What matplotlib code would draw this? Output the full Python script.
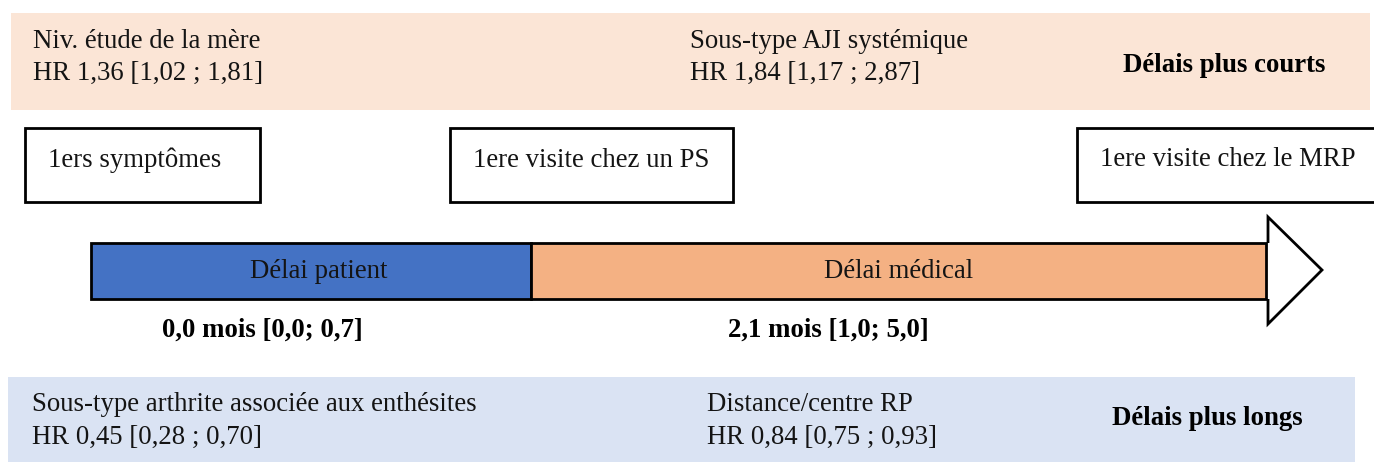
import matplotlib
matplotlib.use("Agg")
import matplotlib.pyplot as plt
from matplotlib.patches import Rectangle, Polygon

# ---- data ----
steps = ["1ers symptômes", "1ere visite chez un PS", "1ere visite chez le MRP"]
phases = ["Délai patient", "Délai médical"]
median_months = [0.0, 2.1]
q1_months = [0.0, 1.0]
q3_months = [0.7, 5.0]
short_factors = ["Niv. étude de la mère", "Sous-type AJI systémique"]
short_hr = [1.36, 1.84]
short_lo = [1.02, 1.17]
short_hi = [1.81, 2.87]
long_factors = ["Sous-type arthrite associée aux enthésites", "Distance/centre RP"]
long_hr = [0.45, 0.84]
long_lo = [0.28, 0.75]
long_hi = [0.70, 0.93]
band_titles = ["Délais plus courts", "Délais plus longs"]


def fr(v, d):
    return f"{v:.{d}f}".replace(".", ",")


plt.rcParams['font.family'] = ['Liberation Serif', 'DejaVu Serif']
FS = 19.3
TXT = "#141414"

fig = plt.figure(figsize=(13.74, 4.62), dpi=100)
ax = fig.add_axes([0, 0, 1, 1])
ax.set_xlim(0, 1374)
ax.set_ylim(462, 0)
ax.axis("off")

# bands
ax.add_patch(Rectangle((11, 13), 1359, 97, facecolor="#FBE5D6", edgecolor="none"))
ax.add_patch(Rectangle((8, 377), 1347, 85, facecolor="#DAE3F3", edgecolor="none"))

# top band texts
short_x = [33, 690]
for x, f, hr, lo, hi in zip(short_x, short_factors, short_hr, short_lo, short_hi):
    ax.text(x, 48, f, fontsize=FS, color=TXT, va="baseline", ha="left")
    ax.text(x, 80, f"HR {fr(hr, 2)} [{fr(lo, 2)} ; {fr(hi, 2)}]", fontsize=FS,
            color=TXT, va="baseline", ha="left")
ax.text(1224.5, 72, band_titles[0], fontsize=FS, fontweight="bold", color="black",
        va="baseline", ha="center")

# bottom band texts
long_x = [32, 707]
for x, f, hr, lo, hi in zip(long_x, long_factors, long_hr, long_lo, long_hi):
    ax.text(x, 411, f, fontsize=FS, color=TXT, va="baseline", ha="left")
    ax.text(x, 444, f"HR {fr(hr, 2)} [{fr(lo, 2)} ; {fr(hi, 2)}]", fontsize=FS,
            color=TXT, va="baseline", ha="left")
ax.text(1207.5, 425, band_titles[1], fontsize=FS, fontweight="bold", color="black",
        va="baseline", ha="center")

# step boxes
box_x = [(25, 260), (450, 733), (1077, 1380)]
box_tx = [48, 473, 1100]
box_base = [167, 167, 166]
for (x0, x1), tx, tb, s in zip(box_x, box_tx, box_base, steps):
    ax.add_patch(Rectangle((x0, 128), x1 - x0, 74, facecolor="white",
                           edgecolor="black", linewidth=2))
    ax.text(tx, tb, s, fontsize=FS, color=TXT, va="baseline", ha="left")

# arrow
y0, y1 = 243, 299
seg = [(91, 531), (531, 1266)]
cols = ["#4472C4", "#F4B183"]
label_cx = [319, 898.5]
for (x0, x1), c, p, cx in zip(seg, cols, phases, label_cx):
    ax.add_patch(Rectangle((x0, y0), x1 - x0, y1 - y0, facecolor=c,
                           edgecolor="black", linewidth=2))
    ax.text(cx, 278, p, fontsize=FS, color=TXT, va="baseline", ha="center")
head = Polygon([(1268, y0), (1268, 217), (1322, 270), (1268, 324), (1268, y1)],
               closed=False, facecolor="white", edgecolor="black", linewidth=2)
ax.add_patch(head)

# delay medians
mx = [262, 828.5]
for x, m, a, b in zip(mx, median_months, q1_months, q3_months):
    ax.text(x, 337, f"{fr(m, 1)} mois [{fr(a, 1)}; {fr(b, 1)}]", fontsize=FS,
            fontweight="bold", color="black", va="baseline", ha="center")

fig.savefig("out.png", dpi=100)
